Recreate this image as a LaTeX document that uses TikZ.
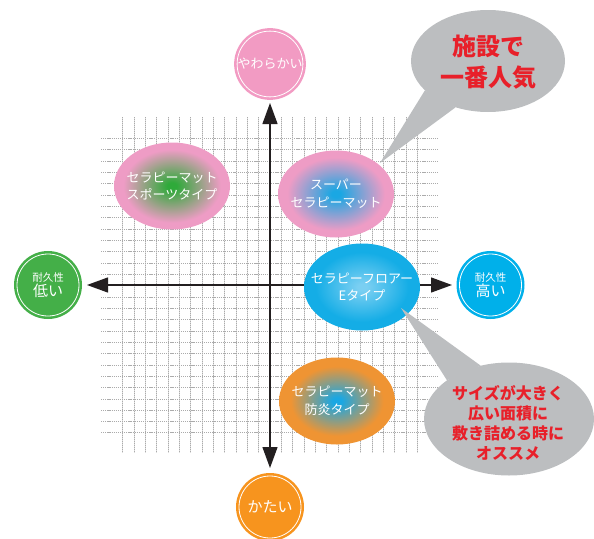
\documentclass[tikz,border=0pt]{standalone}
\usepackage{fontspec}
\setmainfont{Noto Sans CJK JP}
\usetikzlibrary{arrows.meta,shapes.geometric}
\definecolor{axisc}{HTML}{231F20}
\definecolor{gridc}{HTML}{ABABAB}
\definecolor{gridl}{HTML}{DEDEDE}
\definecolor{pinkc}{HTML}{F29BC3}
\definecolor{greenc}{HTML}{44AF48}
\definecolor{bluec}{HTML}{00B0EA}
\definecolor{orangec}{HTML}{F7941E}
\definecolor{callc}{HTML}{BCBEC0}
\definecolor{callred}{HTML}{E8202A}
\definecolor{spgreen}{HTML}{2FAA3A}
\definecolor{sppink}{HTML}{EE9CC5}
\definecolor{spblue}{HTML}{1AA7E3}
\definecolor{spcyan}{HTML}{14ADE6}
\definecolor{splight}{HTML}{7ACFF2}
\definecolor{sporange}{HTML}{EF9433}
\pgfdeclareradialshading{sportsshade}{\pgfpoint{0bp}{0bp}}{color(0bp)=(spgreen); color(2bp)=(spgreen); color(21bp)=(sppink); color(50bp)=(sppink)}
\pgfdeclareradialshading{supershade}{\pgfpoint{0bp}{0bp}}{color(0bp)=(spblue); color(2bp)=(spblue); color(21bp)=(sppink); color(50bp)=(sppink)}
\pgfdeclareradialshading{floorshade}{\pgfpoint{0bp}{0bp}}{color(0bp)=(splight); color(2bp)=(splight); color(20bp)=(spcyan); color(50bp)=(spcyan)}
\pgfdeclareradialshading{fireshade}{\pgfpoint{0bp}{0bp}}{color(0bp)=(spblue); color(2bp)=(spblue); color(20bp)=(sporange); color(50bp)=(sporange)}

\begin{document}
\begin{tikzpicture}[x=1pt, y=-1pt,
  gridsolid/.style={draw=gridl, line width=0.5pt},
  gridv/.style={draw=gridc, line width=0.5pt, dash pattern=on 1pt off 1pt},
  gridh/.style={draw=gridc, line width=0.6pt, dash pattern=on 1.2pt off 0.9pt},
  axis/.style={draw=axisc, line width=1.3pt, {Triangle[length=21pt,width=15pt]}-{Triangle[length=21pt,width=15pt]}},
  knob/.style={circle, minimum size=62pt, inner sep=0pt, draw=#1, fill=#1, line width=2.6pt, double=white, double distance=0.8pt, text=white, align=center},
  spot/.style={ellipse, minimum width=116pt, minimum height=87pt, inner sep=0pt},
  spottext/.style={text=white, align=center, font=\fontsize{13}{17.7}\selectfont},
  callout/.style={ellipse, fill=callc, inner sep=0pt},
  calltext/.style={text=callred, align=center}
]
\useasboundingbox (0,0) rectangle (594,538);

\foreach \k in {-13,...,13} {
  \draw[gridsolid] ({270+\k*11.33},117) -- ({270+\k*11.33},453);
  \draw[gridv] ({270+\k*11.33},117) -- ({270+\k*11.33},453);
  \draw[gridh] (101,{285.5+\k*11.33}) -- (438,{285.5+\k*11.33});
}

\coordinate (west) at (87,285);
\coordinate (east) at (452,285);
\coordinate (north) at (270,103);
\coordinate (south) at (270,468);
\draw[axis] (west) -- (east);
\draw[axis] (north) -- (south);

\node[spot, shading=sportsshade] (sports) at (172,186) {};
\node[spottext] (sportslbl) at (sports) {セラピーマット\\スポーツタイプ};
\node[spot, shading=supershade] (super) at (336,194) {};
\node[spottext] (superlbl) at (super) {スーパー\\セラピーマット};
\node[spot, shading=floorshade] (floor) at (362,287) {};
\node[spottext] (floorlbl) at (floor) {セラピーフロアー\\Eタイプ};
\node[spot, shading=fireshade] (fire) at (337,401) {};
\node[spottext] (firelbl) at (fire) {セラピーマット\\防炎タイプ};

\node[knob=pinkc, font=\fontsize{13}{15}\selectfont] (soft) at (270,64) {やわらかい};
\node[knob=orangec, font=\fontsize{15}{17}\selectfont] (hard) at (270,507) {かたい};
\node[knob=greenc, font=\fontsize{10.5}{13}\selectfont] (weak) at (48,285) {耐久性\\[1pt]{\fontsize{15}{15}\selectfont 低い}};
\node[knob=bluec, font=\fontsize{10.5}{13}\selectfont] (strong) at (490.5,285) {耐久性\\[1pt]{\fontsize{15}{15}\selectfont 高い}};

\node[callout, minimum width=154pt, minimum height=102pt] (topcall) at (488,61) {};
\coordinate (toptip) at (380,163);
\fill[callc] (toptip) -- (topcall.205) -- (topcall.235) -- cycle;
\node[calltext, font=\bfseries\fontsize{24}{31.7}\selectfont] (toplbl) at (488,62) {施設で\\一番人気};

\node[callout, minimum width=170pt, minimum height=113pt] (lowcall) at (509,419) {};
\coordinate (lowtip) at (401,308);
\fill[callc] (lowtip) -- (lowcall.118) -- (lowcall.148) -- cycle;
\node[calltext, font=\bfseries\fontsize{16}{20}\selectfont] (lowlbl) at (508,423) {サイズが大きく\\広い面積に\\敷き詰める時に\\オススメ};
\end{tikzpicture}
\end{document}
